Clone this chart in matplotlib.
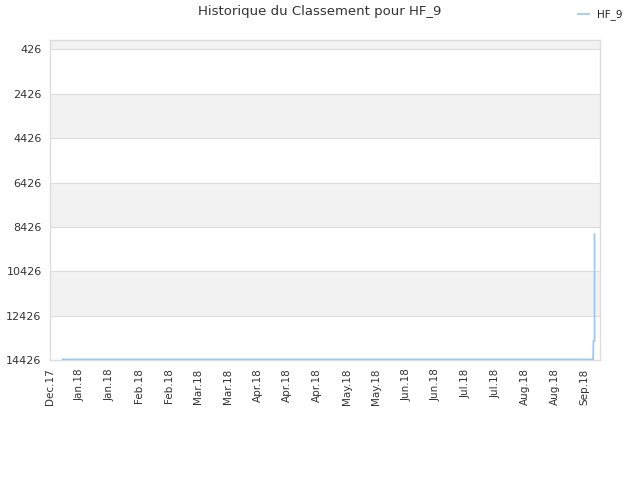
import matplotlib
matplotlib.use("Agg")
import matplotlib.pyplot as plt
import pandas as pd

# Data
dates = ["2017-12-31 00:00", "2018-09-07 06:00", "2018-09-07 10:00",
         "2018-09-07 22:00", "2018-09-07 22:00", "2018-09-07 22:00"]
ranks = [14400, 14400, 13570, 13570, 8760, 8760]
series_name = "HF_9"

tick_dates = ["2017-12-25", "2018-01-08", "2018-01-22", "2018-02-05", "2018-02-19",
              "2018-03-05", "2018-03-19", "2018-04-02", "2018-04-16", "2018-04-30",
              "2018-05-14", "2018-05-28", "2018-06-11", "2018-06-25", "2018-07-09",
              "2018-07-23", "2018-08-06", "2018-08-20", "2018-09-03"]
tick_labels = ["Dec.17", "Jan.18", "Jan.18", "Feb.18", "Feb.18", "Mar.18", "Mar.18",
               "Apr.18", "Apr.18", "Apr.18", "May.18", "May.18", "Jun.18", "Jun.18",
               "Jul.18", "Jul.18", "Aug.18", "Aug.18", "Sep.18"]
y_ticks = [426, 2426, 4426, 6426, 8426, 10426, 12426, 14426]

x = pd.to_datetime(dates)
xt = pd.to_datetime(tick_dates)

fig = plt.figure(figsize=(6.4, 4.8), dpi=100)
ax = fig.add_axes([50/640, 1-360/480, 550/640, 320/480])

y_top = 1
y_bottom = 14426
ax.set_ylim(y_bottom, y_top)
ax.set_xlim(pd.Timestamp("2017-12-25"), pd.Timestamp("2018-09-10 12:00"))

# alternating bands
bounds = [y_top] + y_ticks
for i in range(len(bounds) - 1):
    if i % 2 == 0:
        ax.axhspan(bounds[i], bounds[i+1], color="#f2f2f2", zorder=0, lw=0)

for yt in y_ticks:
    ax.axhline(yt, color="#dddddd", lw=0.8, zorder=1)

ax.plot(x, ranks, color="#9ccaf5", lw=1.3, label=series_name, zorder=3)

ax.set_yticks(y_ticks)
ax.set_yticklabels([str(v) for v in y_ticks], fontsize=8, color="#333333")
ax.set_xticks(xt)
ax.set_xticklabels(tick_labels, rotation=90, fontsize=7.5, color="#333333")
ax.tick_params(axis="both", length=0, pad=6)
for s in ax.spines.values():
    s.set_color("#dddddd")
    s.set_linewidth(1)

fig.text(0.5, 1-12/480, "Historique du Classement pour HF_9", ha="center", va="center",
         fontsize=9.5, color="#333333")
leg = fig.legend(loc="upper right", bbox_to_anchor=(0.988, 1.0), frameon=False,
                 fontsize=7.5, handlelength=1.1, handletextpad=0.8)
for t in leg.get_texts():
    t.set_color("#222222")

fig.savefig("out.png", dpi=100)
